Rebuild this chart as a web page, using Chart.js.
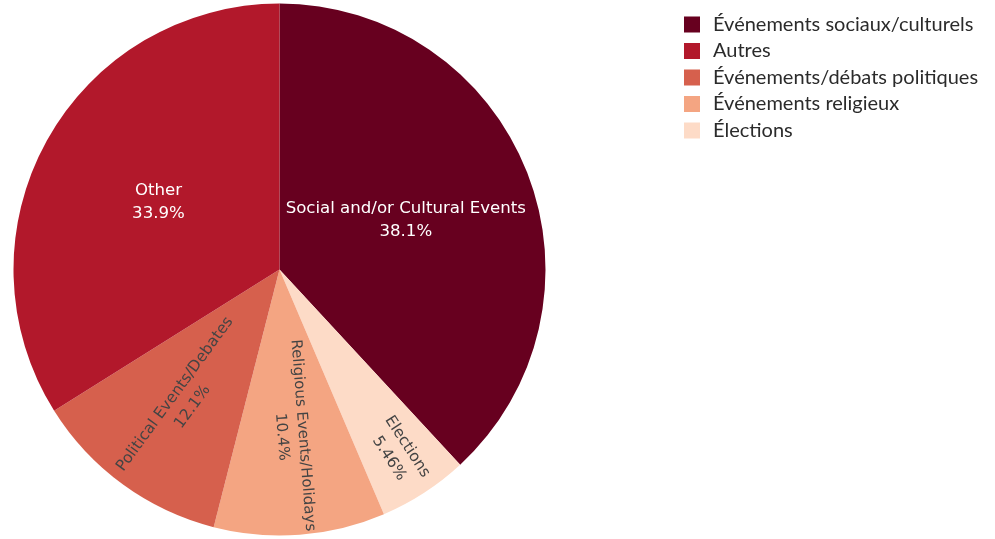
<!DOCTYPE html>
<html>
<head>
<meta charset="utf-8">
<script src="https://cdn.jsdelivr.net/npm/chart.js@4.4.1/dist/chart.umd.min.js"></script>
<style>
    html, body { margin: 0; padding: 0; background: #fff; }
    #wrap { position: relative; width: 995px; height: 539px; }
</style>
</head>
<body>
<div id="wrap"><canvas id="eventPie" width="995" height="539"></canvas></div>
<script>
// Slice order runs clockwise from 12 o'clock
const categories = ['Social and/or Cultural Events', 'Elections', 'Religious Events/Holidays', 'Political Events/Debates', 'Other'];
const legendLabels = ['Événements sociaux/culturels', 'Élections', 'Événements religieux', 'Événements/débats politiques', 'Autres'];
const shares = [38.1, 5.46, 10.4, 12.1, 33.9];
const percentLabels = ['38.1%', '5.46%', '10.4%', '12.1%', '33.9%'];

const sliceColors = ['#67001f', '#fddbc7', '#f4a582', '#d6604d', '#b2182b'];
const textColors = ['#ffffff', '#444444', '#444444', '#444444', '#ffffff'];
// where each label sits along its slice, as a fraction of the radius
const labelRadius = [0.51, 0.82, 0.628, 0.61, 0.52];
const labelRotated = [false, true, true, true, false];
const labelSize = [16.6, 15.5, 15, 15.5, 16.6];

// labels inside the slices
const sliceText = {
    id: 'sliceText',
    afterDatasetsDraw(chart) {
        const ctx = chart.ctx;
        const meta = chart.getDatasetMeta(0);
        ctx.save();
        ctx.textAlign = 'center';
        ctx.textBaseline = 'middle';
        meta.data.forEach((arc, i) => {
            const p = arc.getProps(['x', 'y', 'startAngle', 'endAngle', 'outerRadius'], true);
            const mid = (p.startAngle + p.endAngle) / 2;
            const r = p.outerRadius * labelRadius[i];
            const cx = p.x + Math.cos(mid) * r;
            const cy = p.y + Math.sin(mid) * r;
            const half = labelSize[i] * 0.7;
            ctx.save();
            ctx.translate(cx, cy);
            if (labelRotated[i]) {
                // radial text, kept readable
                let rot = mid;
                if (rot > Math.PI / 2) rot -= Math.PI;
                if (rot <= -Math.PI / 2) rot += Math.PI;
                ctx.rotate(rot);
            }
            ctx.font = labelSize[i] + 'px "DejaVu Sans", Verdana, sans-serif';
            ctx.fillStyle = textColors[i];
            ctx.fillText(categories[i], 0, -half);
            ctx.fillText(percentLabels[i], 0, half);
            ctx.restore();
        });
        ctx.restore();
    }
};

// legend on the right, largest share first
const sideLegend = {
    id: 'sideLegend',
    afterDraw(chart) {
        const ctx = chart.ctx;
        const order = shares.map((v, i) => i).sort((a, b) => shares[b] - shares[a]);
        ctx.save();
        ctx.font = '20px Lato, "Open Sans", sans-serif';
        ctx.textBaseline = 'middle';
        ctx.textAlign = 'left';
        order.forEach((idx, row) => {
            const y = 24.5 + row * 26.5;
            ctx.fillStyle = sliceColors[idx];
            ctx.fillRect(684, y - 8, 16, 16);
            ctx.fillStyle = '#2b2b2b';
            ctx.fillText(legendLabels[idx], 713, y);
        });
        ctx.restore();
    }
};

const ctx = document.getElementById('eventPie').getContext('2d');
new Chart(ctx, {
    type: 'pie',
    data: {
        labels: categories,
        datasets: [{
            data: shares,
            backgroundColor: sliceColors,
            borderWidth: 0
        }]
    },
    options: {
        responsive: false,
        animation: false,
        layout: {
            padding: { left: 13.5, top: 3.5, right: 449.5, bottom: 3.5 }
        },
        plugins: {
            legend: { display: false },
            tooltip: { enabled: false }
        }
    },
    plugins: [sliceText, sideLegend]
});
</script>
</body>
</html>
